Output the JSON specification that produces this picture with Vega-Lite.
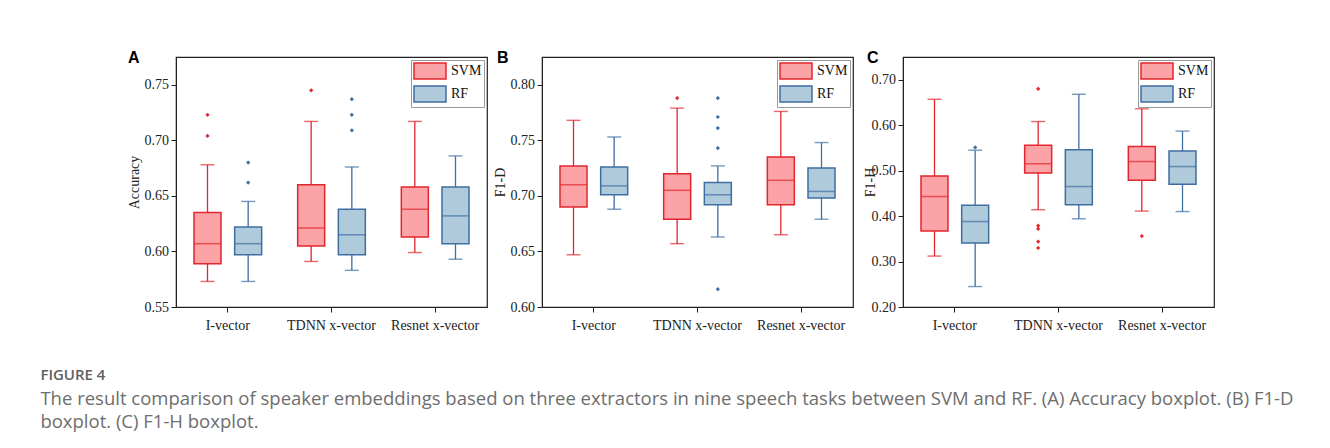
{
  "$schema": "https://vega.github.io/schema/vega-lite/v6.json",
  "background": "white",
  "padding": {"left": 40, "top": 49, "right": 5, "bottom": 5},
  "datasets": {
    "boxes": [
      {"panel": "A", "embedding": "I-vector", "model": "SVM", "lower": 0.573, "q1": 0.589, "median": 0.607, "q3": 0.635, "upper": 0.678},
      {"panel": "A", "embedding": "I-vector", "model": "RF", "lower": 0.573, "q1": 0.597, "median": 0.607, "q3": 0.622, "upper": 0.645},
      {"panel": "A", "embedding": "TDNN x-vector", "model": "SVM", "lower": 0.591, "q1": 0.605, "median": 0.621, "q3": 0.660, "upper": 0.717},
      {"panel": "A", "embedding": "TDNN x-vector", "model": "RF", "lower": 0.583, "q1": 0.597, "median": 0.615, "q3": 0.638, "upper": 0.676},
      {"panel": "A", "embedding": "Resnet x-vector", "model": "SVM", "lower": 0.599, "q1": 0.613, "median": 0.638, "q3": 0.658, "upper": 0.717},
      {"panel": "A", "embedding": "Resnet x-vector", "model": "RF", "lower": 0.593, "q1": 0.607, "median": 0.632, "q3": 0.658, "upper": 0.686},
      {"panel": "B", "embedding": "I-vector", "model": "SVM", "lower": 0.647, "q1": 0.690, "median": 0.710, "q3": 0.727, "upper": 0.768},
      {"panel": "B", "embedding": "I-vector", "model": "RF", "lower": 0.688, "q1": 0.701, "median": 0.709, "q3": 0.726, "upper": 0.753},
      {"panel": "B", "embedding": "TDNN x-vector", "model": "SVM", "lower": 0.657, "q1": 0.679, "median": 0.705, "q3": 0.720, "upper": 0.779},
      {"panel": "B", "embedding": "TDNN x-vector", "model": "RF", "lower": 0.663, "q1": 0.692, "median": 0.701, "q3": 0.712, "upper": 0.727},
      {"panel": "B", "embedding": "Resnet x-vector", "model": "SVM", "lower": 0.665, "q1": 0.692, "median": 0.714, "q3": 0.735, "upper": 0.776},
      {"panel": "B", "embedding": "Resnet x-vector", "model": "RF", "lower": 0.679, "q1": 0.698, "median": 0.704, "q3": 0.725, "upper": 0.748},
      {"panel": "C", "embedding": "I-vector", "model": "SVM", "lower": 0.312, "q1": 0.367, "median": 0.443, "q3": 0.488, "upper": 0.657},
      {"panel": "C", "embedding": "I-vector", "model": "RF", "lower": 0.245, "q1": 0.341, "median": 0.388, "q3": 0.424, "upper": 0.545},
      {"panel": "C", "embedding": "TDNN x-vector", "model": "SVM", "lower": 0.414, "q1": 0.495, "median": 0.515, "q3": 0.556, "upper": 0.608},
      {"panel": "C", "embedding": "TDNN x-vector", "model": "RF", "lower": 0.394, "q1": 0.425, "median": 0.465, "q3": 0.546, "upper": 0.668},
      {"panel": "C", "embedding": "Resnet x-vector", "model": "SVM", "lower": 0.411, "q1": 0.479, "median": 0.520, "q3": 0.553, "upper": 0.636},
      {"panel": "C", "embedding": "Resnet x-vector", "model": "RF", "lower": 0.410, "q1": 0.470, "median": 0.509, "q3": 0.543, "upper": 0.587}
    ],
    "outliers": [
      {"panel": "A", "embedding": "I-vector", "model": "SVM", "value": 0.723},
      {"panel": "A", "embedding": "I-vector", "model": "SVM", "value": 0.704},
      {"panel": "A", "embedding": "I-vector", "model": "RF", "value": 0.680},
      {"panel": "A", "embedding": "I-vector", "model": "RF", "value": 0.662},
      {"panel": "A", "embedding": "TDNN x-vector", "model": "SVM", "value": 0.745},
      {"panel": "A", "embedding": "TDNN x-vector", "model": "RF", "value": 0.737},
      {"panel": "A", "embedding": "TDNN x-vector", "model": "RF", "value": 0.723},
      {"panel": "A", "embedding": "TDNN x-vector", "model": "RF", "value": 0.709},
      {"panel": "B", "embedding": "TDNN x-vector", "model": "SVM", "value": 0.788},
      {"panel": "B", "embedding": "TDNN x-vector", "model": "RF", "value": 0.788},
      {"panel": "B", "embedding": "TDNN x-vector", "model": "RF", "value": 0.771},
      {"panel": "B", "embedding": "TDNN x-vector", "model": "RF", "value": 0.761},
      {"panel": "B", "embedding": "TDNN x-vector", "model": "RF", "value": 0.743},
      {"panel": "B", "embedding": "TDNN x-vector", "model": "RF", "value": 0.616},
      {"panel": "C", "embedding": "I-vector", "model": "RF", "value": 0.551},
      {"panel": "C", "embedding": "TDNN x-vector", "model": "SVM", "value": 0.680},
      {"panel": "C", "embedding": "TDNN x-vector", "model": "SVM", "value": 0.379},
      {"panel": "C", "embedding": "TDNN x-vector", "model": "SVM", "value": 0.372},
      {"panel": "C", "embedding": "TDNN x-vector", "model": "SVM", "value": 0.344},
      {"panel": "C", "embedding": "TDNN x-vector", "model": "SVM", "value": 0.330},
      {"panel": "C", "embedding": "Resnet x-vector", "model": "SVM", "value": 0.356}
    ]
  },
  "title": {
    "text": "FIGURE 4",
    "subtitle": ["The result comparison of speaker embeddings based on three extractors in nine speech tasks between SVM and RF. (A) Accuracy boxplot. (B) F1-D", "boxplot. (C) F1-H boxplot."],
    "orient": "bottom", "anchor": "start", "frame": "bounds", "dx": -86, "offset": 35,
    "font": "Open Sans", "fontSize": 15, "fontWeight": 600, "color": "#606060",
    "subtitleFont": "Open Sans", "subtitleFontSize": 18.5, "subtitleColor": "#6e6e6e", "subtitleLineHeight": 23, "subtitlePadding": 7
  },
  "bounds": "flush",
  "spacing": 55,
  "resolve": {"scale": {"fill": "independent", "stroke": "independent", "color": "independent"}, "legend": {"fill": "independent", "stroke": "independent", "color": "independent"}},
  "hconcat": [
    {
      "width": 311, "height": 250,
      "title": {"text": "A", "anchor": "start", "frame": "group", "orient": "top", "dx": -48, "dy": 22, "offset": 0, "baseline": "alphabetic", "font": "Liberation Sans", "fontSize": 16, "fontWeight": "bold", "color": "#000"},
      "encoding": {
        "x": {"field": "embedding", "type": "nominal", "scale": {"domain": ["I-vector", "TDNN x-vector", "Resnet x-vector"], "paddingInner": 0, "paddingOuter": 0}, "title": null},
        "xOffset": {"field": "model", "type": "nominal", "scale": {"domain": ["SVM", "RF"], "paddingInner": 0, "paddingOuter": 0.2745}}
      },
      "layer": [
        {"data": {"name": "boxes"}, "transform": [{"filter": "datum.panel == 'A'"}], "mark": {"type": "rule", "strokeWidth": 1.3},
         "encoding": {"y": {"field": "lower", "type": "quantitative", "scale": {"domain": [0.55, 0.775], "nice": false, "zero": false}, "title": "Accuracy",
                            "axis": {"values": [0.55, 0.575, 0.6, 0.625, 0.65, 0.675, 0.7, 0.725, 0.75], "labelExpr": "abs(round(datum.value*1000) % 50) < 1 ? format(datum.value, '.2f') : ''", "tickSize": 5, "labelPadding": 2.5, "titlePadding": 3,
                                     "encode": {"ticks": {"update": {"x2": {"signal": "abs(round(datum.value*1000) % 50) < 1 ? -5 : -3"}}}}}},
                      "y2": {"field": "upper"},
                      "stroke": {"field": "model", "type": "nominal", "scale": {"domain": ["SVM", "RF"], "range": ["#E2262D", "#3F6EA3"]}, "title": null}}},
        {"data": {"name": "boxes"}, "transform": [{"filter": "datum.panel == 'A'"}], "mark": {"type": "tick", "size": 14, "thickness": 1.4},
         "encoding": {"y": {"field": "lower", "type": "quantitative", "title": "Accuracy"},
                      "color": {"field": "model", "type": "nominal", "scale": {"domain": ["RF", "SVM"], "range": ["#3F6EA3", "#E2262D"]}, "legend": null}}},
        {"data": {"name": "boxes"}, "transform": [{"filter": "datum.panel == 'A'"}], "mark": {"type": "tick", "size": 14, "thickness": 1.4},
         "encoding": {"y": {"field": "upper", "type": "quantitative", "title": "Accuracy"},
                      "color": {"field": "model", "type": "nominal", "scale": {"domain": ["RF", "SVM"], "range": ["#3F6EA3", "#E2262D"]}, "legend": null}}},
        {"data": {"name": "boxes"}, "transform": [{"filter": "datum.panel == 'A'"}], "mark": {"type": "bar", "size": 27, "strokeWidth": 1.5, "fillOpacity": 1},
         "encoding": {"y": {"field": "q1", "type": "quantitative", "title": "Accuracy"},
                      "y2": {"field": "q3"},
                      "fill": {"field": "model", "type": "nominal", "scale": {"domain": ["SVM", "RF"], "range": ["#FCA3A7", "#AFCADB"]}, "title": null},
                      "stroke": {"field": "model", "type": "nominal", "scale": {"domain": ["SVM", "RF"], "range": ["#E2262D", "#3F6EA3"]}, "title": null}}},
        {"data": {"name": "boxes"}, "transform": [{"filter": "datum.panel == 'A'"}], "mark": {"type": "tick", "size": 27, "thickness": 1.5},
         "encoding": {"y": {"field": "median", "type": "quantitative", "title": "Accuracy"},
                      "color": {"field": "model", "type": "nominal", "scale": {"domain": ["RF", "SVM"], "range": ["#3F6EA3", "#E2262D"]}, "legend": null}}},
        {"data": {"name": "outliers"}, "transform": [{"filter": "datum.panel == 'A'"}], "mark": {"type": "point", "shape": "diamond", "filled": true, "size": 18, "opacity": 1},
         "encoding": {"y": {"field": "value", "type": "quantitative", "title": "Accuracy"},
                      "color": {"field": "model", "type": "nominal", "scale": {"domain": ["RF", "SVM"], "range": ["#3F6EA3", "#E2262D"]}, "legend": null}}}
      ]
    },
    {
      "bounds": "flush",
      "spacing": 50,
      "resolve": {"scale": {"fill": "independent", "stroke": "independent", "color": "independent"}, "legend": {"fill": "independent", "stroke": "independent", "color": "independent"}},
      "hconcat": [
        {
          "width": 311, "height": 250,
          "title": {"text": "B", "anchor": "start", "frame": "group", "orient": "top", "dx": -45, "dy": 22, "offset": 0, "baseline": "alphabetic", "font": "Liberation Sans", "fontSize": 16, "fontWeight": "bold", "color": "#000"},
          "encoding": {
            "x": {"field": "embedding", "type": "nominal", "scale": {"domain": ["I-vector", "TDNN x-vector", "Resnet x-vector"], "paddingInner": 0, "paddingOuter": 0}, "title": null},
            "xOffset": {"field": "model", "type": "nominal", "scale": {"domain": ["SVM", "RF"], "paddingInner": 0, "paddingOuter": 0.2745}}
          },
          "layer": [
            {"data": {"name": "boxes"}, "transform": [{"filter": "datum.panel == 'B'"}], "mark": {"type": "rule", "strokeWidth": 1.3},
             "encoding": {"y": {"field": "lower", "type": "quantitative", "scale": {"domain": [0.6, 0.825], "nice": false, "zero": false}, "title": "F1-D",
                                "axis": {"values": [0.6, 0.625, 0.65, 0.675, 0.7, 0.725, 0.75, 0.775, 0.8], "labelExpr": "abs(round(datum.value*1000) % 50) < 1 ? format(datum.value, '.2f') : ''", "tickSize": 5, "labelPadding": 2.5, "titlePadding": 3,
                                         "encode": {"ticks": {"update": {"x2": {"signal": "abs(round(datum.value*1000) % 50) < 1 ? -5 : -3"}}}}}},
                          "y2": {"field": "upper"},
                          "stroke": {"field": "model", "type": "nominal", "scale": {"domain": ["SVM", "RF"], "range": ["#E2262D", "#3F6EA3"]}, "title": null}}},
            {"data": {"name": "boxes"}, "transform": [{"filter": "datum.panel == 'B'"}], "mark": {"type": "tick", "size": 14, "thickness": 1.4},
             "encoding": {"y": {"field": "lower", "type": "quantitative", "title": "F1-D"},
                          "color": {"field": "model", "type": "nominal", "scale": {"domain": ["RF", "SVM"], "range": ["#3F6EA3", "#E2262D"]}, "legend": null}}},
            {"data": {"name": "boxes"}, "transform": [{"filter": "datum.panel == 'B'"}], "mark": {"type": "tick", "size": 14, "thickness": 1.4},
             "encoding": {"y": {"field": "upper", "type": "quantitative", "title": "F1-D"},
                          "color": {"field": "model", "type": "nominal", "scale": {"domain": ["RF", "SVM"], "range": ["#3F6EA3", "#E2262D"]}, "legend": null}}},
            {"data": {"name": "boxes"}, "transform": [{"filter": "datum.panel == 'B'"}], "mark": {"type": "bar", "size": 27, "strokeWidth": 1.5, "fillOpacity": 1},
             "encoding": {"y": {"field": "q1", "type": "quantitative", "title": "F1-D"},
                          "y2": {"field": "q3"},
                          "fill": {"field": "model", "type": "nominal", "scale": {"domain": ["SVM", "RF"], "range": ["#FCA3A7", "#AFCADB"]}, "title": null},
                          "stroke": {"field": "model", "type": "nominal", "scale": {"domain": ["SVM", "RF"], "range": ["#E2262D", "#3F6EA3"]}, "title": null}}},
            {"data": {"name": "boxes"}, "transform": [{"filter": "datum.panel == 'B'"}], "mark": {"type": "tick", "size": 27, "thickness": 1.5},
             "encoding": {"y": {"field": "median", "type": "quantitative", "title": "F1-D"},
                          "color": {"field": "model", "type": "nominal", "scale": {"domain": ["RF", "SVM"], "range": ["#3F6EA3", "#E2262D"]}, "legend": null}}},
            {"data": {"name": "outliers"}, "transform": [{"filter": "datum.panel == 'B'"}], "mark": {"type": "point", "shape": "diamond", "filled": true, "size": 18, "opacity": 1},
             "encoding": {"y": {"field": "value", "type": "quantitative", "title": "F1-D"},
                          "color": {"field": "model", "type": "nominal", "scale": {"domain": ["RF", "SVM"], "range": ["#3F6EA3", "#E2262D"]}, "legend": null}}}
          ]
        },
        {
          "width": 311, "height": 250,
          "title": {"text": "C", "anchor": "start", "frame": "group", "orient": "top", "dx": -36, "dy": 22, "offset": 0, "baseline": "alphabetic", "font": "Liberation Sans", "fontSize": 16, "fontWeight": "bold", "color": "#000"},
          "encoding": {
            "x": {"field": "embedding", "type": "nominal", "scale": {"domain": ["I-vector", "TDNN x-vector", "Resnet x-vector"], "paddingInner": 0, "paddingOuter": 0}, "title": null},
            "xOffset": {"field": "model", "type": "nominal", "scale": {"domain": ["SVM", "RF"], "paddingInner": 0, "paddingOuter": 0.2745}}
          },
          "layer": [
            {"data": {"name": "boxes"}, "transform": [{"filter": "datum.panel == 'C'"}], "mark": {"type": "rule", "strokeWidth": 1.3},
             "encoding": {"y": {"field": "lower", "type": "quantitative", "scale": {"domain": [0.2, 0.75], "nice": false, "zero": false}, "title": "F1-H",
                                "axis": {"values": [0.2, 0.25, 0.3, 0.35, 0.4, 0.45, 0.5, 0.55, 0.6, 0.65, 0.7], "labelExpr": "abs(round(datum.value*100) % 10) < 1 ? format(datum.value, '.2f') : ''", "tickSize": 5, "labelPadding": 2.5, "titlePadding": -6,
                                         "encode": {"ticks": {"update": {"x2": {"signal": "abs(round(datum.value*100) % 10) < 1 ? -5 : -3"}}}}}},
                          "y2": {"field": "upper"},
                          "stroke": {"field": "model", "type": "nominal", "scale": {"domain": ["SVM", "RF"], "range": ["#E2262D", "#3F6EA3"]}, "title": null}}},
            {"data": {"name": "boxes"}, "transform": [{"filter": "datum.panel == 'C'"}], "mark": {"type": "tick", "size": 14, "thickness": 1.4},
             "encoding": {"y": {"field": "lower", "type": "quantitative", "title": "F1-H"},
                          "color": {"field": "model", "type": "nominal", "scale": {"domain": ["RF", "SVM"], "range": ["#3F6EA3", "#E2262D"]}, "legend": null}}},
            {"data": {"name": "boxes"}, "transform": [{"filter": "datum.panel == 'C'"}], "mark": {"type": "tick", "size": 14, "thickness": 1.4},
             "encoding": {"y": {"field": "upper", "type": "quantitative", "title": "F1-H"},
                          "color": {"field": "model", "type": "nominal", "scale": {"domain": ["RF", "SVM"], "range": ["#3F6EA3", "#E2262D"]}, "legend": null}}},
            {"data": {"name": "boxes"}, "transform": [{"filter": "datum.panel == 'C'"}], "mark": {"type": "bar", "size": 27, "strokeWidth": 1.5, "fillOpacity": 1},
             "encoding": {"y": {"field": "q1", "type": "quantitative", "title": "F1-H"},
                          "y2": {"field": "q3"},
                          "fill": {"field": "model", "type": "nominal", "scale": {"domain": ["SVM", "RF"], "range": ["#FCA3A7", "#AFCADB"]}, "title": null},
                          "stroke": {"field": "model", "type": "nominal", "scale": {"domain": ["SVM", "RF"], "range": ["#E2262D", "#3F6EA3"]}, "title": null}}},
            {"data": {"name": "boxes"}, "transform": [{"filter": "datum.panel == 'C'"}], "mark": {"type": "tick", "size": 27, "thickness": 1.5},
             "encoding": {"y": {"field": "median", "type": "quantitative", "title": "F1-H"},
                          "color": {"field": "model", "type": "nominal", "scale": {"domain": ["RF", "SVM"], "range": ["#3F6EA3", "#E2262D"]}, "legend": null}}},
            {"data": {"name": "outliers"}, "transform": [{"filter": "datum.panel == 'C'"}], "mark": {"type": "point", "shape": "diamond", "filled": true, "size": 18, "opacity": 1},
             "encoding": {"y": {"field": "value", "type": "quantitative", "title": "F1-H"},
                          "color": {"field": "model", "type": "nominal", "scale": {"domain": ["RF", "SVM"], "range": ["#3F6EA3", "#E2262D"]}, "legend": null}}}
          ]
        }
      ]
    }
  ],
  "config": {
    "view": {"stroke": "#222", "strokeWidth": 1.2},
    "axis": {"grid": false, "domainColor": "#222", "tickColor": "#222", "labelFont": "Liberation Serif", "titleFont": "Liberation Serif", "labelFontSize": 14, "titleFontSize": 14, "titleFontWeight": "normal", "labelColor": "#222", "titleColor": "#222"},
    "axisX": {"labelAngle": 0, "tickSize": 5, "labelPadding": 6},
    "legend": {"orient": "top-right", "offset": 3, "padding": 2, "strokeColor": "#9a9a9a", "fillColor": "#ffffff", "symbolType": "M-2,-1L2,-1L2,1L-2,1Z", "symbolSize": 256, "symbolOffset": 8, "symbolStrokeWidth": 1.5, "labelFont": "Liberation Serif", "labelFontSize": 14, "labelColor": "#111", "rowPadding": 1, "labelOffset": 12}
  }
}
